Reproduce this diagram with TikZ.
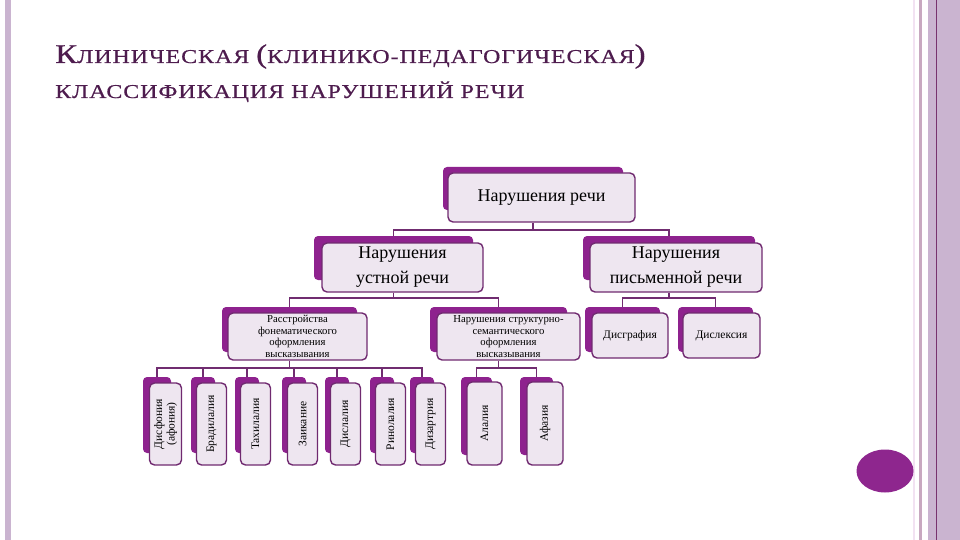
\documentclass[tikz,border=0pt]{standalone}
\usepackage{fontspec}
\setmainfont{Liberation Serif}
\newfontfamily\headfont[FakeStretch=1.22,LetterSpace=5,FakeBold=0.6]{Liberation Serif}

\definecolor{backc}{RGB}{142,34,142}
\definecolor{frontc}{RGB}{238,230,240}
\definecolor{framec}{RGB}{112,42,112}
\definecolor{linkc}{RGB}{112,44,112}
\definecolor{titlec}{RGB}{78,28,78}
\definecolor{dotc}{RGB}{142,38,142}
\definecolor{lavc}{RGB}{202,180,208}
\definecolor{greyc}{RGB}{200,168,192}
\definecolor{faintc}{RGB}{242,226,242}
\definecolor{darkc}{RGB}{120,50,110}

\tikzset{
  back/.style={fill=backc, rounded corners=4pt, inner sep=0pt},
  front/.style={fill=frontc, draw=framec, line width=1.4pt, rounded corners=5pt,
    inner sep=0pt, align=center, text=black},
  big/.style={font=\fontsize{18}{25}\selectfont},
  small/.style={font=\fontsize{10.7}{11.5}\selectfont},
  word/.style={font=\fontsize{11.5}{12.5}\selectfont},
  link/.style={draw=linkc, line width=1.6pt},
}

\begin{document}
\begin{tikzpicture}[x=1pt,y=-1pt]
    \useasboundingbox (0,0) rectangle (960,540);

    % slide frame
    \fill[lavc] (5,0) rectangle (11,540);
    \fill[faintc] (913,0) rectangle (914.5,540);
    \fill[greyc] (919,0) rectangle (922,540);
    \fill[lavc] (928,0) rectangle (960,540);
    \fill[darkc] (936,0) rectangle (937.2,540);

    \node[anchor=base west, inner sep=0pt, text=titlec] (title) at (55,63)
      {\headfont{\fontsize{27}{27}\selectfont К}\fontsize{19.6}{20}\selectfont ЛИНИЧЕСКАЯ
       {\fontsize{27}{27}\selectfont (}КЛИНИКО-ПЕДАГОГИЧЕСКАЯ{\fontsize{27}{27}\selectfont )}};
    \node[anchor=base west, inner sep=0pt, text=titlec] (subtitle) at (55,98)
      {\headfont\fontsize{19.6}{20}\selectfont КЛАССИФИКАЦИЯ НАРУШЕНИЙ РЕЧИ};

    \coordinate (row1) at (0,230);
    \coordinate (row2) at (0,298);
    \coordinate (row3) at (0,368);

    \node[back, minimum width=180pt, minimum height=43pt] (speechB) at (533,188.5) {};
    \node[front, big, minimum width=187pt, minimum height=49pt] (speech) at (541.5,197.5) {Нарушения речи};

    \node[back, minimum width=159pt, minimum height=44pt] (oralB) at (393.5,258) {};
    \node[front, big, minimum width=161pt, minimum height=49pt] (oral) at (402.5,267.5) {Нарушения\\устной речи};
    \node[back, minimum width=172pt, minimum height=44pt] (writB) at (669,258) {};
    \node[front, big, minimum width=172pt, minimum height=49pt] (writ) at (676,267.5) {Нарушения\\письменной речи};

    \node[back, minimum width=135pt, minimum height=45pt] (phonB) at (289.5,329.5) {};
    \node[front, small, minimum width=139pt, minimum height=47pt] (phon) at (297.5,336.5)
      {Расстройства\\фонематического\\оформления\\высказывания};
    \node[back, minimum width=137pt, minimum height=45pt] (semB) at (498.5,329.5) {};
    \node[front, small, minimum width=143pt, minimum height=47pt] (sem) at (508.5,336.5)
      {Нарушения структурно-\\семантического\\оформления\\высказывания};
    \node[back, minimum width=75pt, minimum height=45pt] (dgrB) at (622.5,329.5) {};
    \node[front, word, minimum width=76pt, minimum height=45pt] (dgr) at (630,335.5) {Дисграфия};
    \node[back, minimum width=75pt, minimum height=45pt] (dlxB) at (715.5,329.5) {};
    \node[front, word, minimum width=77pt, minimum height=45pt] (dlx) at (721.5,335.5) {Дислексия};

    \node[back, minimum width=28pt, minimum height=76pt] (v1B) at (157,415) {};
    \node[front, word, rotate=90, minimum width=82pt, minimum height=32pt] (v1) at (165.5,424) {Дисфония\\(афония)};
    \node[back, minimum width=24pt, minimum height=76pt] (v2B) at (203,415) {};
    \node[front, word, rotate=90, minimum width=82pt, minimum height=30pt] (v2) at (211.5,424) {Брадилалия};
    \node[back, minimum width=24pt, minimum height=76pt] (v3B) at (247,415) {};
    \node[front, word, rotate=90, minimum width=82pt, minimum height=30pt] (v3) at (255.5,424) {Тахилалия};
    \node[back, minimum width=24pt, minimum height=76pt] (v4B) at (294,415) {};
    \node[front, word, rotate=90, minimum width=82pt, minimum height=30pt] (v4) at (302.5,424) {Заикание};
    \node[back, minimum width=24pt, minimum height=76pt] (v5B) at (337,415) {};
    \node[front, word, rotate=90, minimum width=82pt, minimum height=30pt] (v5) at (345.5,424) {Дислалия};
    \node[back, minimum width=24pt, minimum height=76pt] (v6B) at (382,415) {};
    \node[front, word, rotate=90, minimum width=82pt, minimum height=30pt] (v6) at (390.5,424) {Ринолалия};
    \node[back, minimum width=24pt, minimum height=76pt] (v7B) at (422,415) {};
    \node[front, word, rotate=90, minimum width=82pt, minimum height=30pt] (v7) at (430.5,424) {Дизартрия};

    \node[back, minimum width=31pt, minimum height=78pt] (alaB) at (476.5,416) {};
    \node[front, word, rotate=90, minimum width=83pt, minimum height=35pt] (ala) at (484.5,423.5) {Алалия};
    \node[back, minimum width=33pt, minimum height=78pt] (afaB) at (536.5,416) {};
    \node[front, word, rotate=90, minimum width=83pt, minimum height=36pt] (afa) at (545,423.5) {Афазия};

    \draw[link] (speechB |- speech.south) -- (speechB |- row1) -| (oralB.north);
    \draw[link] (speechB |- row1) -| (writB.north);

    \draw[link] (oralB |- oral.south) -- (oralB |- row2) -| (phonB.north);
    \draw[link] (oralB |- row2) -| (semB.north);
    \draw[link] (writB |- writ.south) -- (writB |- row2) -| (dgrB.north);
    \draw[link] (writB |- row2) -| (dlxB.north);

    \draw[link] (phonB |- phon.south) -- (phonB |- row3) -| (v1B.north);
    \draw[link] (phonB |- row3) -| (v2B.north);
    \draw[link] (phonB |- row3) -| (v3B.north);
    \draw[link] (phonB |- row3) -| (v4B.north);
    \draw[link] (phonB |- row3) -| (v5B.north);
    \draw[link] (phonB |- row3) -| (v6B.north);
    \draw[link] (phonB |- row3) -| (v7B.north);
    \draw[link] (semB |- sem.south) -- (semB |- row3) -| (alaB.north);
    \draw[link] (semB |- row3) -| (afaB.north);

    \fill[dotc] (885,471) ellipse [x radius=28.5, y radius=21.5];
\end{tikzpicture}
\end{document}
